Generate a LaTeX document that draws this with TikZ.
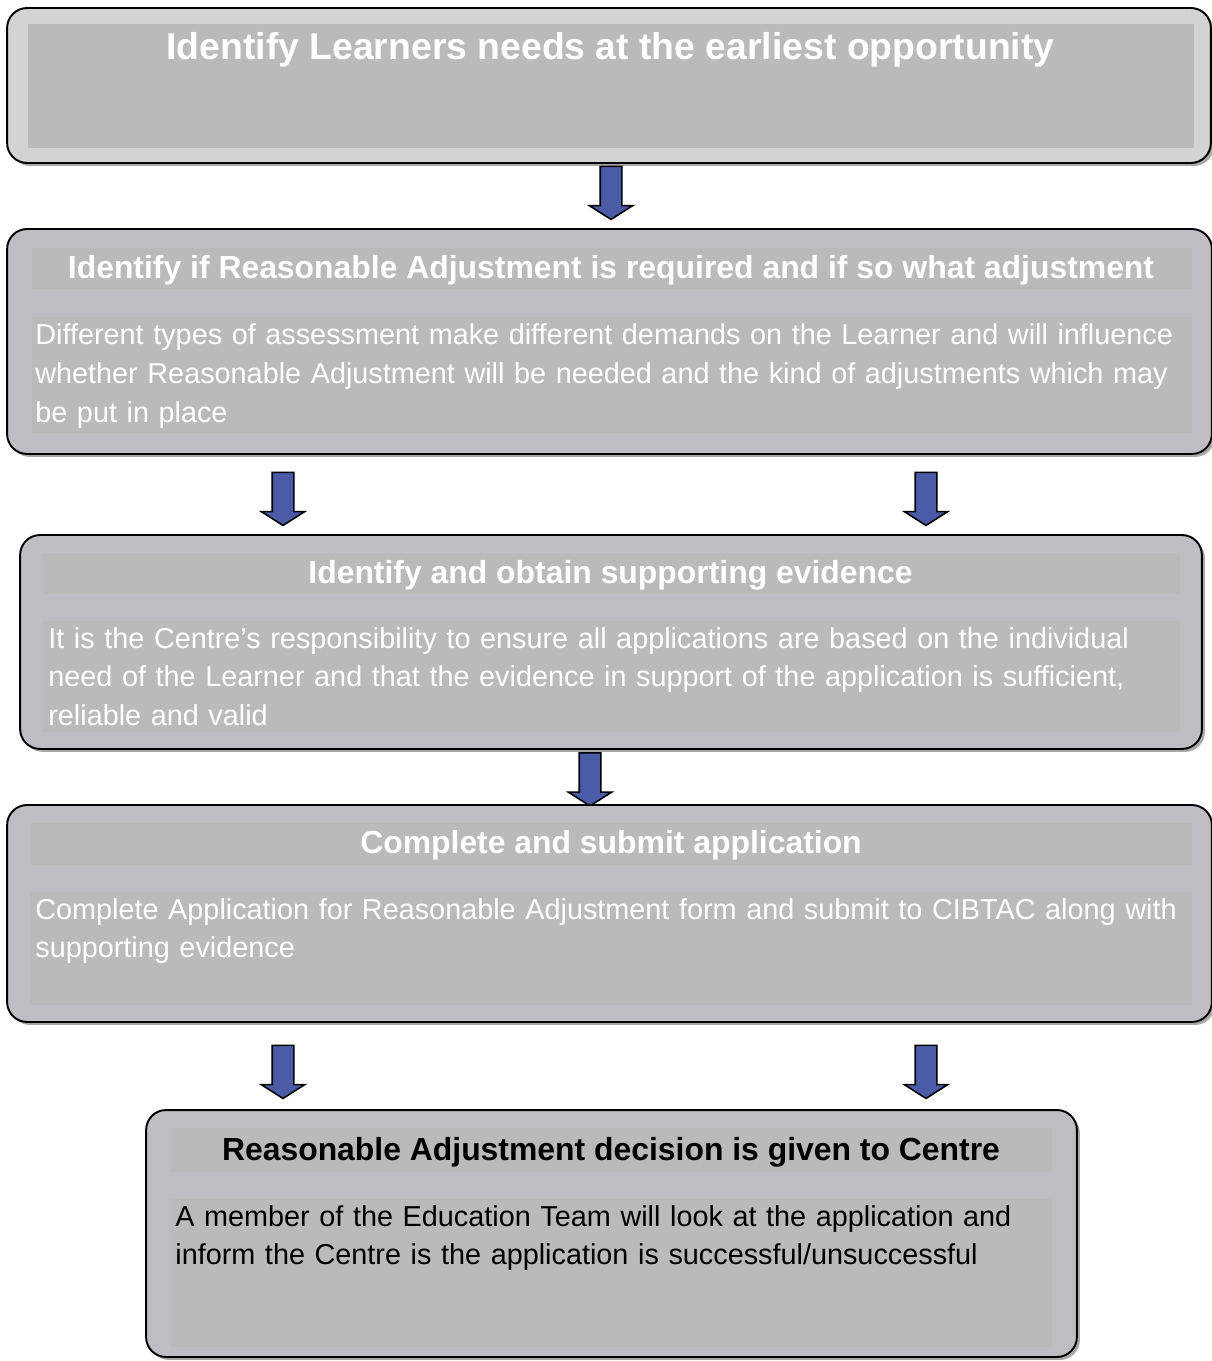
\documentclass[tikz,border=0pt]{standalone}
\usepackage{fontspec}
\setmainfont{Liberation Sans}
\usetikzlibrary{shapes.arrows,shadows}

\definecolor{boxgray}{RGB}{192,188,195}
\definecolor{bandgray}{RGB}{187,185,186}
\definecolor{topgray}{RGB}{211,211,211}
\definecolor{shadowgray}{RGB}{168,168,168}
\definecolor{arrowblue}{RGB}{74,92,168}

\tikzset{
  stagebox/.style={draw=black, line width=1.1pt, rounded corners=0.4cm, fill=boxgray,
    drop shadow={shadow xshift=0.06cm, shadow yshift=-0.06cm, opacity=1, fill=shadowgray}},
  band/.style={fill=bandgray, inner sep=0pt},
  headtext/.style={font=\bfseries\fontsize{18.15}{22}\selectfont, text=white, anchor=base, inner sep=0pt},
  bodytext/.style={font=\fontsize{16.4}{22.1}\selectfont, text=white, anchor=base west,
    align=left, text width=25cm, inner sep=0pt},
  downarrow/.style={single arrow, shape border rotate=270, draw=black, line width=0.9pt,
    fill=arrowblue, minimum height=1.06cm, inner sep=0.2cm, single arrow head extend=0.22cm,
    single arrow tip angle=115}
}

\begin{document}
\begin{tikzpicture}[x=0.02cm, y=-0.02cm]
\useasboundingbox (0,0) rectangle (1212,1361);

% first stage
\node[stagebox, fill=topgray, minimum width=24.08cm, minimum height=3.1cm] (learn) at (609,85.5) {};
\node[band, minimum width=23.32cm, minimum height=2.48cm] (learnband) at (611,86) {};
\node[headtext, font=\bfseries\fontsize{21.25}{25}\selectfont] (learnhead) at (610.5,60)
  {Identify Learners needs at the earliest opportunity};

\node[downarrow] (a1) at (611,189.5) {};

% reasonable adjustment
\node[stagebox, minimum width=24.1cm, minimum height=4.5cm] (adjust) at (609.5,341.5) {};
\node[band, minimum width=23.2cm, minimum height=0.82cm] (adjusttop) at (612,268.5) {};
\node[band, minimum width=23.2cm, minimum height=2.32cm] (adjustbody) at (612,375) {};
\node[headtext] (adjusthead) at (611,279)
  {Identify if Reasonable Adjustment is required and if so what adjustment};
\node[bodytext] (adjusttext) at (35,345)
  {Different types of assessment make different demands on the Learner and will influence\\
   whether Reasonable Adjustment will be needed and the kind of adjustments which may\\
   be put in place};

\node[downarrow] (a2) at (283,495.5) {};
\node[downarrow] (a3) at (926,495.5) {};

% evidence
\node[stagebox, minimum width=23.64cm, minimum height=4.28cm] (evid) at (611,642) {};
\node[band, minimum width=22.74cm, minimum height=0.82cm] (evidtop) at (611.5,573.5) {};
\node[band, minimum width=22.74cm, minimum height=2.22cm] (evidbody) at (611.5,676.5) {};
\node[headtext] (evidhead) at (610.5,583) {Identify and obtain supporting evidence};
\node[bodytext] (evidtext) at (48,648)
  {It is the Centre’s responsibility to ensure all applications are based on the individual\\
   need of the Learner and that the evidence in support of the application is sufficient,\\
   reliable and valid};

\node[downarrow] (a4) at (590,776) {};

% application
\node[stagebox, minimum width=24.1cm, minimum height=4.34cm] (apply) at (609.5,913.5) {};
\node[band, minimum width=23.24cm, minimum height=0.84cm] (applytop) at (611,844) {};
\node[band, minimum width=23.24cm, minimum height=2.26cm] (applybody) at (611,948.5) {};
\node[headtext] (applyhead) at (611,853) {Complete and submit application};
\node[bodytext] (applytext) at (35,919)
  {Complete Application for Reasonable Adjustment form and submit to CIBTAC along with\\
   supporting evidence};

\node[downarrow] (a5) at (283,1068.5) {};
\node[downarrow] (a6) at (926,1068.5) {};

% decision
\node[stagebox, minimum width=18.62cm, minimum height=4.94cm] (decide) at (611.5,1233.5) {};
\node[band, minimum width=17.62cm, minimum height=0.88cm] (decidetop) at (611.5,1150) {};
\node[band, minimum width=17.62cm, minimum height=2.96cm] (decidebody) at (611.5,1273) {};
\node[headtext, text=black] (decidehead) at (611,1160)
  {Reasonable Adjustment decision is given to Centre};
\node[bodytext, text=black] (decidetext) at (175,1226)
  {A member of the Education Team will look at the application and\\
   inform the Centre is the application is successful/unsuccessful};

\end{tikzpicture}
\end{document}
